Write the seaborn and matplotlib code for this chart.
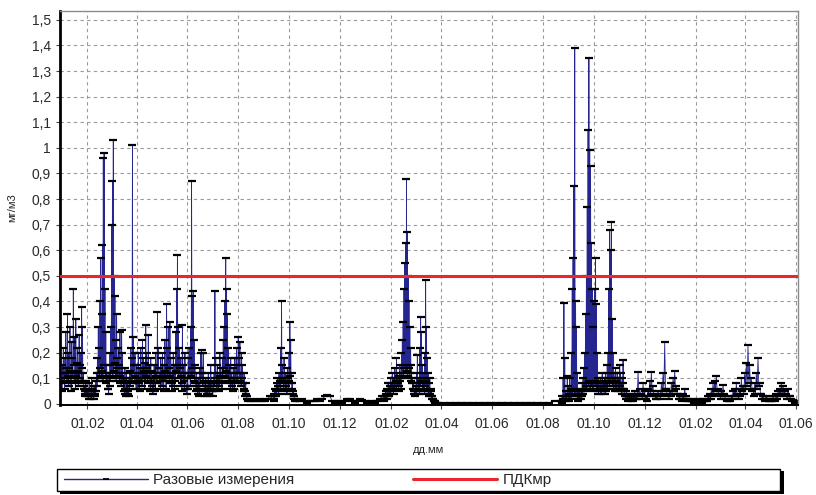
import pandas as pd
import numpy as np
import matplotlib
matplotlib.use('Agg')
import matplotlib.pyplot as plt
import matplotlib.dates as mdates
from matplotlib.lines import Line2D
from matplotlib.patches import Rectangle
from matplotlib.ticker import FuncFormatter
import seaborn as sns

# данные разовых измерений, мг/м3 (считаны с графика)
# сегмент A: ежедневно с 01.01.2015 (пики) + фоновые замеры между ними
seg_a_start = '2015-01-01'
seg_a = [0.08, 0.15, 0.22, 0.10, 0.18, 0.28, 0.12, 0.35, 0.20, 0.14, 0.30, 0.09, 0.24, 0.18, 0.45, 0.26,
         0.12, 0.33, 0.16, 0.22, 0.10, 0.27, 0.15, 0.20, 0.38, 0.30, 0.12, 0.07, 0.05, 0.09, 0.04,
         # февраль
         0.06, 0.03, 0.08, 0.05, 0.04, 0.10, 0.06, 0.03, 0.07, 0.05, 0.09, 0.12, 0.18, 0.30, 0.22, 0.40,
         0.57, 0.35, 0.62, 0.96, 0.98, 0.45, 0.28, 0.15, 0.10, 0.06, 0.12, 0.20,
         # март
         0.30, 0.70, 0.87, 1.03, 0.50, 0.42, 0.25, 0.35, 0.18, 0.22, 0.15, 0.28, 0.12, 0.29, 0.20, 0.10,
         0.08, 0.14, 0.06, 0.12, 0.09, 0.05, 0.10, 0.13, 0.22, 0.18, 1.01, 0.26, 0.12, 0.20, 0.08,
         # апрель
         0.15, 0.10, 0.20, 0.08, 0.14, 0.22, 0.12, 0.25, 0.18, 0.10, 0.16, 0.31, 0.20, 0.12, 0.27, 0.15,
         0.09, 0.18, 0.13, 0.06, 0.10, 0.15, 0.08, 0.20, 0.12, 0.36, 0.22, 0.14, 0.10, 0.18,
         # май
         0.12, 0.20, 0.09, 0.15, 0.25, 0.10, 0.39, 0.22, 0.30, 0.14, 0.32, 0.18, 0.08, 0.12, 0.20, 0.10,
         0.15, 0.28, 0.45, 0.58, 0.30, 0.22, 0.12, 0.18, 0.08, 0.31, 0.15, 0.10, 0.20, 0.12, 0.06,
         # июнь
         0.10, 0.18, 0.22, 0.12, 0.30, 0.87, 0.42, 0.44, 0.25, 0.15, 0.08, 0.12, 0.06, 0.10, 0.05, 0.14,
         0.20, 0.21, 0.12, 0.20, 0.08, 0.05, 0.10, 0.04, 0.07, 0.12, 0.06, 0.09, 0.15, 0.08,
         # июль
         0.05, 0.08, 0.12, 0.44, 0.18, 0.10, 0.15, 0.08, 0.12, 0.20, 0.14, 0.09, 0.18, 0.25, 0.30, 0.40,
         0.57, 0.45, 0.35, 0.22, 0.15, 0.10, 0.18, 0.12, 0.08, 0.14, 0.10, 0.18, 0.12, 0.22, 0.15,
         # август
         0.26, 0.18, 0.24, 0.12, 0.20, 0.15, 0.08, 0.12, 0.05, 0.08, 0.03, 0.02]
seg_a_bg = ('0.05 0.09 0.12 0.06 0.10 0.14 0.08 0.11 0.07 0.13 0.09 0.05 0.12 0.10 0.15 0.08 0.06 0.11 '
            '0.09 0.13 0.07 0.10 0.12 0.08 0.14 0.09 0.06 0.04 0.03 0.05 0.03 '
            '0.04 0.02 0.05 0.03 0.02 0.06 0.04 0.02 0.03 0.04 0.05 0.07 0.09 0.12 0.10 0.14 0.11 0.13 '
            '0.09 0.15 0.12 0.10 0.08 0.11 0.06 0.04 0.07 0.09 '
            '0.12 0.15 0.10 0.13 0.16 0.11 0.09 0.14 0.10 0.12 0.08 0.11 0.07 0.10 0.09 0.05 0.04 0.06 '
            '0.03 0.05 0.04 0.03 0.06 0.07 0.10 0.08 0.12 0.15 0.09 0.11 0.06 '
            '0.08 0.06 0.10 0.05 0.09 0.12 0.07 0.10 0.13 0.06 0.09 0.11 0.14 0.08 0.12 0.10 0.05 0.09 '
            '0.07 0.04 0.06 0.10 0.05 0.11 0.08 0.12 0.14 0.09 0.06 0.10 '
            '0.07 0.11 0.05 0.09 0.13 0.06 0.12 0.10 0.14 0.08 0.11 0.09 0.05 0.07 0.12 0.06 0.09 0.13 '
            '0.15 0.12 0.10 0.14 0.07 0.11 0.05 0.12 0.09 0.06 0.10 0.07 0.04 '
            '0.06 0.10 0.12 0.07 0.11 0.14 0.10 0.12 0.09 0.08 0.05 0.07 0.04 0.06 0.03 0.08 0.10 0.12 '
            '0.07 0.09 0.05 0.03 0.06 0.03 0.04 0.07 0.04 0.06 0.08 0.05 '
            '0.03 0.05 0.07 0.10 0.08 0.06 0.09 0.05 0.07 0.11 0.08 0.06 0.10 0.12 0.14 0.11 0.13 0.10 '
            '0.12 0.09 0.08 0.06 0.10 0.07 0.05 0.09 0.06 0.10 0.08 0.12 0.09 '
            '0.12 0.10 0.09 0.07 0.10 0.08 0.05 0.06 0.03 0.04 0.02 0.01').split()

# затишье, раз в 3 дня
low1_start = '2015-08-15'
low1 = [0.01, 0.02, 0.01, 0.01, 0.02, 0.01, 0.01, 0.02, 0.03, 0.02]

# сегмент B: ежедневно
seg_b_start = '2015-09-12'
seg_b = [0.02, 0.04, 0.06, 0.05, 0.08, 0.10, 0.07, 0.12, 0.09, 0.22, 0.40, 0.15, 0.10, 0.18, 0.08, 0.12,
         0.06, 0.14, 0.10, 0.20, 0.32, 0.25, 0.12, 0.08, 0.05, 0.03, 0.02]
seg_b_bg = ('0.01 0.02 0.03 0.03 0.05 0.06 0.04 0.07 0.06 0.09 0.10 0.08 0.06 0.09 0.05 0.07 0.04 0.08 '
            '0.06 0.09 0.11 0.08 0.06 0.04 0.03 0.02 0.01').split()

low2_start = '2015-10-11'
low2 = [0.01, 0.01, 0.02, 0.01, 0.005, 0.01, 0.01, 0.01, 0.02, 0.01, 0.02, 0.03, 0.035, 0.03, 0.01,
        0.005, 0.01, 0.01, 0.005, 0.01, 0.02, 0.02, 0.01, 0.005, 0.01, 0.02, 0.015, 0.01, 0.005, 0.005,
        0.01, 0.005, 0.01, 0.02, 0.03]

# сегмент C: ежедневно
seg_c_start = '2016-01-23'
seg_c = [0.02, 0.03, 0.05, 0.04, 0.06, 0.08, 0.05, 0.07, 0.10,
         0.08, 0.12, 0.06, 0.10, 0.14, 0.09, 0.18, 0.12, 0.08, 0.11, 0.15, 0.10, 0.20, 0.25, 0.32, 0.45,
         0.55, 0.63, 0.88, 0.67, 0.50, 0.40, 0.30, 0.22, 0.15, 0.10, 0.08, 0.06, 0.05,
         0.07, 0.12, 0.19, 0.10, 0.08, 0.22, 0.34, 0.28, 0.15, 0.12, 0.10, 0.20, 0.485, 0.30, 0.18, 0.12,
         0.08, 0.10, 0.06, 0.05, 0.03, 0.02, 0.01, 0.01, 0.005]
seg_c_bg = ('0.01 0.02 0.03 0.02 0.04 0.05 0.03 0.04 0.06 0.05 0.07 0.04 0.06 0.08 0.06 0.09 0.07 0.05 '
            '0.07 0.09 0.06 0.10 0.12 0.11 0.14 0.12 0.15 0.13 0.11 0.14 0.10 0.12 0.09 0.08 0.06 0.05 '
            '0.04 0.03 0.04 0.06 0.08 0.05 0.04 0.07 0.09 0.08 0.06 0.05 0.04 0.07 0.09 0.06 0.05 0.04 '
            '0.03 0.04 0.03 0.02 0.02 0.01 0.01 0.005 0.003').split()

# весна-лето 2016, раз в неделю
low3_start = '2016-03-28'
low3 = [0.003, 0.002, 0.004, 0.003, 0.002, 0.003, 0.004, 0.002, 0.003, 0.003, 0.002, 0.004, 0.003,
        0.002, 0.003, 0.004, 0.003, 0.002, 0.003, 0.005, 0.01]

# сегмент D1: ежедневно
seg_d1_start = '2016-08-23'
seg_d1 = [0.01, 0.03, 0.10, 0.395, 0.18, 0.05, 0.03, 0.11, 0.07,
          0.04, 0.10, 0.06, 0.20, 0.45, 0.57, 0.85, 1.39, 0.40, 0.30, 0.12, 0.05, 0.03, 0.06, 0.04, 0.05,
          0.08, 0.10, 0.14, 0.20, 0.35, 0.50, 0.77, 1.07, 1.35, 0.99, 0.93, 0.63, 0.45, 0.30,
          0.40, 0.45, 0.57, 0.39, 0.20, 0.10, 0.08, 0.06, 0.10, 0.07, 0.12, 0.09, 0.06, 0.10, 0.12, 0.08,
          0.15, 0.20, 0.45, 0.68, 0.60, 0.71, 0.33, 0.20, 0.12, 0.10, 0.14, 0.09, 0.12, 0.08, 0.10,
          0.15, 0.12, 0.08, 0.10, 0.17, 0.06, 0.04, 0.03, 0.05, 0.03, 0.02, 0.04, 0.03, 0.02, 0.03, 0.02,
          0.04, 0.03, 0.05, 0.04]
seg_d1_bg = ('0.005 0.01 0.02 0.03 0.02 0.01 0.02 0.03 0.02 0.01 0.03 0.02 0.04 0.03 0.05 0.04 0.06 '
             '0.03 0.05 0.02 0.01 0.02 0.03 0.02 0.03 0.04 0.05 0.06 0.05 0.07 0.06 0.08 0.07 0.09 '
             '0.06 0.08 0.07 0.05 0.06 0.08 0.07 0.09 0.06 0.05 0.04 0.06 0.05 0.04 0.06 0.05 0.07 '
             '0.06 0.04 0.05 0.07 0.06 0.08 0.07 0.09 0.08 0.10 0.07 0.06 0.08 0.05 0.07 0.06 0.08 '
             '0.05 0.06 0.07 0.05 0.04 0.06 0.08 0.04 0.03 0.02 0.03 0.02 0.01 0.02 0.02 0.01 0.02 '
             '0.01 0.02 0.02 0.03 0.02').split()

# сегмент D2: раз в 2 дня
seg_d2_start = '2016-11-21'
seg_d2 = [0.03, 0.125, 0.06, 0.04, 0.08, 0.05, 0.03, 0.06, 0.09, 0.125, 0.07, 0.04, 0.03, 0.05, 0.04,
          0.08, 0.12, 0.24, 0.06, 0.04, 0.05, 0.08, 0.10, 0.13, 0.07, 0.04, 0.03, 0.02, 0.04, 0.06,
          0.02, 0.02, 0.015, 0.02, 0.01, 0.015, 0.01, 0.02, 0.015, 0.01, 0.02, 0.015, 0.02, 0.03, 0.04,
          0.06, 0.08, 0.09, 0.11, 0.06, 0.04, 0.05, 0.075, 0.03, 0.02, 0.015, 0.02, 0.03, 0.05, 0.06,
          0.08, 0.03, 0.06, 0.10, 0.07, 0.12, 0.16, 0.23, 0.15, 0.10, 0.06, 0.08, 0.12, 0.18, 0.08,
          0.04, 0.03, 0.02, 0.03, 0.02, 0.015, 0.02, 0.03, 0.02, 0.04, 0.05, 0.06, 0.08, 0.07, 0.05,
          0.04, 0.06, 0.03, 0.02, 0.015, 0.01, 0.005]
seg_d2_bg = ('0.02 0.04 0.03 0.02 0.03 0.02 0.01 0.03 0.04 0.05 0.03 0.02 0.02 0.03 0.02 0.04 0.05 '
             '0.06 0.03 0.02 0.03 0.04 0.05 0.06 0.04 0.02 0.02 0.01 0.02 0.03 0.01 0.01 0.01 0.01 '
             '0.005 0.01 0.005 0.01 0.01 0.005 0.01 0.01 0.01 0.02 0.02 0.03 0.04 0.05 0.05 0.03 0.02 '
             '0.03 0.04 0.02 0.01 0.01 0.01 0.02 0.03 0.03 0.04 0.02 0.03 0.05 0.04 0.06 0.07 0.08 '
             '0.06 0.05 0.03 0.04 0.06 0.07 0.04 0.02 0.02 0.01 0.02 0.01 0.01 0.01 0.02 0.01 0.02 '
             '0.03 0.03 0.04 0.04 0.03 0.02 0.03 0.02 0.01 0.01 0.005 0.003').split()

pdk_mr = 0.5  # ПДК максимально разовая
y_ticks = [0, 0.1, 0.2, 0.3, 0.4, 0.5, 0.6, 0.7, 0.8, 0.9, 1.0, 1.1, 1.2, 1.3, 1.4, 1.5]

# сборка таблицы: (начало, значения, шаг в днях, фоновые замеры посередине шага)
parts = [(seg_a_start, seg_a, 1, seg_a_bg), (low1_start, low1, 3, None),
         (seg_b_start, seg_b, 1, seg_b_bg), (low2_start, low2, 3, None),
         (seg_c_start, seg_c, 1, seg_c_bg), (low3_start, low3, 7, None),
         (seg_d1_start, seg_d1, 1, seg_d1_bg), (seg_d2_start, seg_d2, 2, seg_d2_bg)]
frames = []
for start, vals, step, bg in parts:
    step_td = pd.Timedelta(days=step)
    frames.append(pd.DataFrame({'date': pd.date_range(start, periods=len(vals), freq=step_td),
                                'value': vals}))
    if bg is not None:
        frames.append(pd.DataFrame({'date': pd.date_range(pd.Timestamp(start) + step_td / 2,
                                                          periods=len(bg), freq=step_td),
                                    'value': [float(v) for v in bg]}))
df = pd.concat(frames, ignore_index=True).sort_values('date').reset_index(drop=True)

sns.set_theme(style='white')
plt.rcParams['font.family'] = ['Liberation Sans', 'DejaVu Sans']

fig = plt.figure(figsize=(8.16, 4.95), dpi=100)
ax = fig.add_axes([0.0735, 0.182, 0.9044, 0.796])

line_color = '#25258f'
sns.lineplot(data=df, x='date', y='value', ax=ax, estimator=None, sort=False,
             color=line_color, linewidth=0.6, marker='_', markersize=6,
             markeredgecolor='black', markeredgewidth=1.6)
ax.axhline(pdk_mr, color='#e8262b', linewidth=2.2, zorder=5)

# оси
ax.set_xlim(pd.Timestamp('2014-12-30'), pd.Timestamp('2017-06-03'))
ax.set_ylim(-0.004, 1.535)
ax.set_yticks(y_ticks)


def fmt_y(v, pos):
    s = f'{v:.1f}'
    if s.endswith('.0'):
        s = s[:-2]
    return s.replace('.', ',')


ax.yaxis.set_major_formatter(FuncFormatter(fmt_y))
ax.xaxis.set_major_locator(mdates.MonthLocator(bymonth=[2, 4, 6, 8, 10, 12]))
ax.xaxis.set_major_formatter(mdates.DateFormatter('%d.%m'))

ax.grid(True, color='#9a9a9a', linestyle=(0, (3, 3)), linewidth=0.8)
ax.set_axisbelow(True)
ax.tick_params(axis='both', which='major', direction='out', length=3, width=0.8,
               labelsize=10, labelcolor='#2a2a2a', color='#444', left=True, bottom=True)
ax.tick_params(axis='x', pad=6)

for side in ['top', 'right']:
    ax.spines[side].set_color('#8a8a8a')
    ax.spines[side].set_linewidth(1.0)
ax.spines['left'].set_color('black')
ax.spines['left'].set_linewidth(2.0)
ax.spines['bottom'].set_color('black')
ax.spines['bottom'].set_linewidth(1.4)

ax.set_xlabel('дд.мм', fontsize=8, color='#222', labelpad=10)
ax.set_ylabel('мг/м3', fontsize=8, color='#222', labelpad=10)

# рамка легенды с тенью справа
fig.patches.append(Rectangle((60 / 816, 1 - 494 / 495), 724 / 816, 23 / 495,
                             transform=fig.transFigure, facecolor='black', edgecolor='none', zorder=1))
fig.patches.append(Rectangle((57 / 816, 1 - 491 / 495), 723 / 816, 22 / 495,
                             transform=fig.transFigure, facecolor='white', edgecolor='black',
                             linewidth=1.0, zorder=2))

h_meas = Line2D([], [], color=line_color, linewidth=1, marker='_', markersize=5,
                markeredgecolor='black', markeredgewidth=1.3)
h_pdk = Line2D([], [], color='#e8262b', linewidth=2.2)
fig.legend([h_meas], ['Разовые измерения'], loc='center left',
           bbox_to_anchor=(64 / 816, 1 - 480 / 495), fontsize=11, frameon=False,
           borderaxespad=0, borderpad=0, handlelength=5.5, handletextpad=0.35, numpoints=1)
fig.legend([h_pdk], ['ПДКмр'], loc='center left',
           bbox_to_anchor=(413 / 816, 1 - 480 / 495), fontsize=11, frameon=False,
           borderaxespad=0, borderpad=0, handlelength=5.5, handletextpad=0.35)

fig.savefig('out.png', dpi=100)
